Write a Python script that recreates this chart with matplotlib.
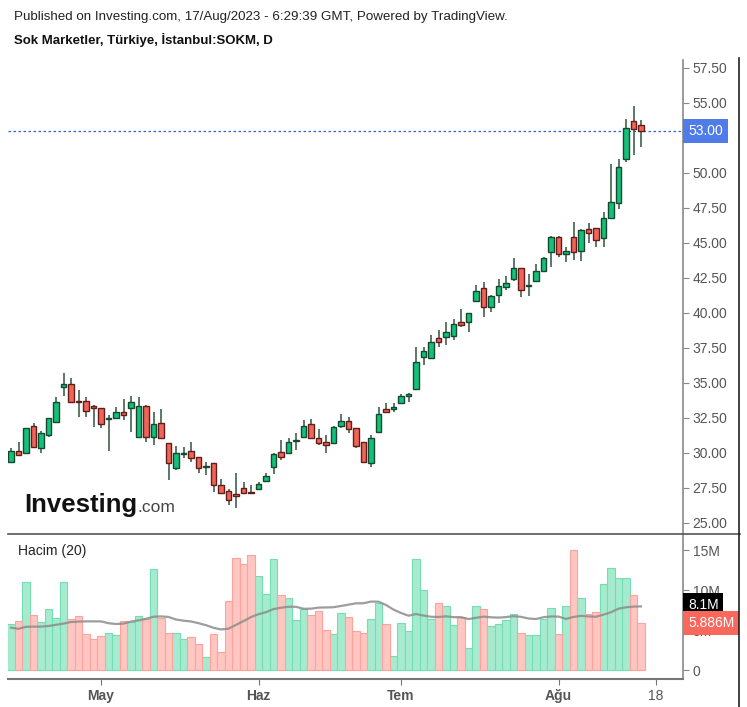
import matplotlib.pyplot as plt
import numpy as np
import pandas as pd
from matplotlib.lines import Line2D
from matplotlib.ticker import FuncFormatter

plt.rcParams['font.family'] = ['Liberation Sans', 'DejaVu Sans']

# daily candles (TRY)
opens = [29.34, 30.14, 29.98, 31.93, 30.34, 31.29, 32.19, 34.69, 34.91, 33.70,
         33.74, 33.38, 33.19, 32.45, 32.48, 32.91, 33.19, 31.12, 33.38, 31.12,
         32.12, 30.69, 28.95, 29.95, 30.16, 29.69, 29.00, 29.26, 27.71, 27.31,
         27.09, 27.48, 27.22, 27.41, 28.00, 28.98, 30.09, 30.02, 30.86, 31.16,
         32.05, 31.05, 30.79, 30.69, 31.93, 32.29, 31.76, 30.76, 29.31, 31.48,
         33.12, 33.14, 33.60, 34.07, 34.57, 36.84, 36.76, 38.19, 38.26, 38.36,
         39.36, 39.34, 40.86, 41.76, 40.41, 41.29, 41.88, 42.43, 43.19, 41.93,
         42.29, 43.02, 44.34, 45.45, 44.19, 45.41, 44.45, 45.98, 46.05, 45.34,
         46.76, 47.84, 50.98, 53.71, 53.43]
highs = [30.34, 30.81, 31.80, 32.12, 31.60, 32.52, 33.98, 35.69, 35.34, 34.50,
         33.98, 33.42, 33.22, 32.71, 33.26, 33.83, 34.09, 34.02, 33.42, 32.95,
         33.12, 30.72, 30.52, 30.45, 30.81, 29.72, 29.38, 29.30, 28.12, 27.40,
         28.55, 27.95, 27.71, 27.90, 28.55, 30.00, 30.93, 31.09, 31.41, 32.36,
         32.41, 31.69, 31.29, 31.90, 32.79, 32.59, 31.80, 30.80, 31.29, 33.31,
         33.59, 33.55, 34.21, 34.31, 37.59, 37.55, 38.43, 38.79, 39.38, 39.57,
         40.26, 40.02, 42.00, 42.24, 41.30, 42.41, 42.67, 43.91, 43.22, 42.76,
         43.50, 44.00, 45.50, 45.50, 44.74, 46.52, 46.00, 46.45, 46.10, 47.24,
         50.64, 50.98, 53.86, 54.81, 53.79]
lows = [29.25, 29.80, 29.95, 30.38, 29.98, 31.12, 32.15, 34.09, 33.58, 32.59,
        32.59, 31.88, 31.76, 30.14, 32.45, 32.36, 31.52, 31.08, 30.81, 30.57,
        30.98, 28.07, 28.79, 29.62, 29.38, 28.59, 28.43, 27.24, 27.08, 26.29,
        26.05, 27.08, 27.10, 27.38, 27.98, 28.50, 29.50, 29.98, 30.21, 31.05,
        31.00, 30.57, 30.02, 30.65, 31.76, 31.41, 30.34, 29.31, 28.98, 31.40,
        32.90, 32.95, 33.58, 33.67, 34.50, 36.29, 36.70, 37.55, 37.71, 38.07,
        39.02, 38.66, 40.80, 39.74, 40.09, 40.74, 41.64, 42.30, 41.17, 41.21,
        42.20, 42.90, 43.31, 43.98, 43.66, 43.79, 43.74, 44.98, 44.74, 44.74,
        46.70, 47.43, 50.81, 51.29, 51.88]
closes = [30.14, 29.86, 31.76, 30.41, 31.41, 32.48, 33.62, 34.91, 33.62, 33.66,
          33.00, 33.19, 32.07, 32.50, 32.91, 32.71, 33.62, 33.38, 31.12, 32.05,
          31.05, 29.26, 29.98, 30.00, 29.62, 28.91, 29.04, 27.71, 27.12, 26.64,
          26.93, 27.12, 27.15, 27.76, 28.38, 29.93, 29.74, 30.81, 30.90, 31.93,
          31.05, 30.74, 30.59, 31.84, 32.29, 31.69, 30.50, 29.38, 31.05, 32.76,
          32.95, 33.31, 34.09, 34.21, 36.48, 37.31, 37.91, 37.91, 38.66, 39.19,
          39.14, 39.98, 41.59, 40.41, 41.21, 41.95, 42.12, 43.19, 41.64, 41.98,
          43.02, 43.91, 45.45, 44.21, 44.45, 44.38, 45.93, 45.69, 45.21, 46.76,
          47.91, 50.41, 53.19, 53.12, 53.00]

# volume in millions
volumes = [5.75, 6.08, 11.04, 6.83, 5.96, 7.63, 6.54, 11.04, 6.33, 6.71,
           4.50, 3.88, 4.21, 4.67, 4.33, 6.08, 5.96, 6.71, 6.33, 12.63,
           6.54, 4.67, 4.67, 3.88, 4.08, 3.25, 1.58, 4.46, 2.21, 8.63,
           14.04, 13.29, 14.38, 11.71, 9.50, 13.88, 9.33, 9.04, 6.25, 7.67,
           6.83, 7.33, 5.00, 4.50, 7.17, 6.58, 4.88, 4.67, 6.38, 8.42,
           5.75, 1.75, 5.92, 4.83, 13.83, 9.96, 6.38, 8.42, 7.96, 5.58,
           6.67, 2.79, 7.96, 7.58, 5.46, 5.75, 6.25, 6.96, 4.67, 4.33,
           4.33, 6.38, 7.79, 4.50, 7.96, 15.00, 9.04, 6.96, 7.21, 10.75,
           12.79, 11.54, 11.54, 9.38, 5.886]
# 20-day average for the first bars (needs earlier days not on the chart)
ma_head = [5.29, 5.15, 5.40, 5.42, 5.42, 5.50, 5.65, 5.80, 6.00, 6.05,
           6.08, 6.08, 6.08, 5.85, 5.75, 5.80, 6.05, 6.20, 6.40]

tick_idx = [12, 33, 52, 73, 86]
tick_labels = ['May', 'Haz', 'Tem', 'Ağu', '18']
last_price = 53.00
last_ma = 8.1

W, H = 747, 707


def fx(px):
    return px / W


def fy(py):
    return 1 - py / H


fig = plt.figure(figsize=(W / 100, H / 100), dpi=100)
ax = fig.add_axes([fx(8), fy(534), fx(683) - fx(8), fy(60) - fy(534)])
axv = fig.add_axes([fx(8), fy(679), fx(683) - fx(8), fy(534) - fy(679)], sharex=ax)

idx = np.arange(len(closes))
o = np.array(opens)
c = np.array(closes)
up = c >= o
body_lo = np.minimum(o, c)
body_h = np.maximum(np.abs(c - o), 0.06)

ax.vlines(idx, lows, highs, color='#43604f', lw=1.2, zorder=2)
ax.bar(idx[up], body_h[up], bottom=body_lo[up], width=0.78,
       color='#12c27a', edgecolor='#17472f', lw=1.0, zorder=3)
ax.bar(idx[~up], body_h[~up], bottom=body_lo[~up], width=0.78,
       color='#f2645a', edgecolor='#5e1f1a', lw=1.0, zorder=3)
ax.axhline(last_price, color='#2f62e0', lw=0.9, ls=(0, (2, 2)), zorder=1)

ax.set_xlim(-0.4, 89.6)
ax.set_ylim(24.21, 58.07)
ax.set_yticks(np.arange(25, 57.6, 2.5))
ax.yaxis.set_major_formatter(FuncFormatter(lambda v, p: f'{v:.2f}'))
ax.yaxis.tick_right()
ax.tick_params(axis='y', direction='out', length=4, color='#888888',
               labelcolor='#555555', labelsize=10, pad=3)
ax.tick_params(axis='x', length=0, labelbottom=False)
for s in ['left', 'top', 'bottom']:
    ax.spines[s].set_visible(False)
ax.spines['right'].set_color('#8a8a8a')
ax.spines['right'].set_linewidth(1.2)

ax.text(1.0 + 5 / 675, last_price, f'{last_price:.2f}', transform=ax.get_yaxis_transform(),
        ha='left', va='center', color='white', fontsize=10, zorder=6, clip_on=False,
        bbox=dict(boxstyle='square,pad=0.35', fc='#4f7ce8', ec='none'))

# volume pane
vol = np.array(volumes) * 1e6
axv.bar(idx[up], vol[up], width=0.95, color='#a6ebcf', edgecolor='#72deb1', lw=0.8)
axv.bar(idx[~up], vol[~up], width=0.95, color='#ffc6c2', edgecolor='#ffa29c', lw=0.8)
ma = pd.Series(volumes).rolling(20).mean().to_numpy()
ma[:len(ma_head)] = ma_head
axv.plot(idx, ma * 1e6, color='#8c8c8c', lw=1.6, alpha=0.85)

axv.set_ylim(-1.125e6, 17.0e6)
axv.set_yticks([0, 5e6, 10e6, 15e6])
axv.yaxis.set_major_formatter(FuncFormatter(lambda v, p: '0' if v == 0 else f'{int(v / 1e6)}M'))
axv.yaxis.tick_right()
axv.tick_params(axis='y', direction='out', length=4, color='#888888',
                labelcolor='#555555', labelsize=10, pad=3)
axv.set_xticks(tick_idx)
axv.set_xticklabels(tick_labels)
axv.tick_params(axis='x', direction='out', length=4, color='#777777',
                labelcolor='#555555', labelsize=10, pad=3)
for lab in axv.get_xticklabels():
    if lab.get_text() != '18':
        lab.set_fontweight('bold')
for s in ['left', 'top']:
    axv.spines[s].set_visible(False)
axv.spines['right'].set_color('#8a8a8a')
axv.spines['right'].set_linewidth(1.2)
axv.spines['bottom'].set_color('#777777')
axv.spines['bottom'].set_linewidth(1.5)

axv.text(1.0 + 5 / 675, last_ma * 1e6, f'{last_ma}M', transform=axv.get_yaxis_transform(),
         ha='left', va='center', color='white', fontsize=10, zorder=6, clip_on=False,
         bbox=dict(boxstyle='square,pad=0.35', fc='black', ec='none'))
axv.text(1.0 + 5 / 675, volumes[-1] * 1e6, f'{volumes[-1]}M', transform=axv.get_yaxis_transform(),
         ha='left', va='center', color='white', fontsize=10, zorder=6, clip_on=False,
         bbox=dict(boxstyle='square,pad=0.35', fc='#f8685c', ec='none'))

# frame lines
fig.add_artist(Line2D([fx(8), fx(740)], [fy(534), fy(534)], color='#555555', lw=1.2))
fig.add_artist(Line2D([fx(739), fx(739)], [fy(58), fy(707)], color='#222222', lw=1.2))

# texts
fig.text(fx(14), fy(17), 'Published on Investing.com, 17/Aug/2023 - 6:29:39 GMT, Powered by TradingView.',
         fontsize=9.6, va='center', color='#222222')
fig.text(fx(14), fy(40), 'Sok Marketler, Türkiye, İstanbul:SOKM, D',
         fontsize=9.5, fontweight='bold', va='center', color='#111111')
fig.text(fx(18), fy(551), 'Hacim (20)', fontsize=10, va='center', color='#222222')
fig.text(fx(24), fy(512), 'Investing', fontsize=18.5, fontweight='bold', va='baseline', color='#111111')
fig.text(fx(137), fy(512), '.com', fontsize=12.5, va='baseline', color='#444444')

fig.savefig('out.png', dpi=100)
